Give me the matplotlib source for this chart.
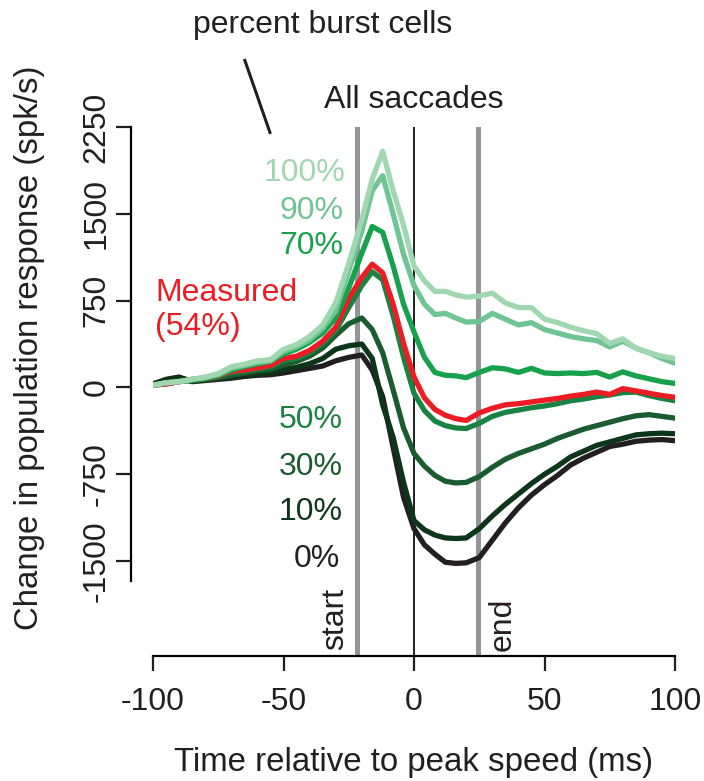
import matplotlib
matplotlib.use("Agg")
import matplotlib.pyplot as plt
import numpy as np

plt.rcParams['font.family'] = ['Liberation Sans', 'DejaVu Sans']
plt.rcParams['axes.unicode_minus'] = False

# time relative to peak speed (ms)
t = [-100, -95, -90, -85, -80, -75, -70, -65, -60, -55, -50, -45, -40, -35, -30, -25, -20,
     -16, -12, -8, -4, 0, 4, 8, 12, 16, 20,
     25, 30, 35, 40, 45, 50, 55, 60, 65, 70, 75, 80, 85, 90, 95, 100]

# population response for each percentage of burst cells (spk/s)
p100 = [20, 40, 50, 70, 90, 120, 180, 200, 230, 240, 330, 370, 440, 540, 730, 1070, 1450,
        1800, 2040, 1700, 1400, 1050, 920, 830, 830, 800, 780,
        790, 815, 730, 690, 690, 590, 560, 520, 490, 465, 380, 420, 340, 300, 270, 250]
p90 = [20, 40, 50, 70, 85, 110, 165, 190, 215, 230, 310, 350, 410, 510, 660, 1010, 1350,
       1700, 1830, 1500, 1150, 880, 720, 630, 640, 600, 565,
       570, 640, 590, 540, 560, 500, 470, 440, 420, 405, 350, 400, 340, 300, 250, 210]
p70 = [20, 40, 50, 65, 80, 105, 150, 180, 205, 225, 290, 330, 390, 470, 600, 860, 1160,
       1390, 1340, 1050, 720, 480, 260, 130, 105, 100, 85,
       130, 170, 160, 130, 165, 125, 120, 125, 120, 130, 90, 135, 100, 75, 50, 35]
measured = [20, 30, 50, 70, 80, 100, 140, 150, 170, 190, 250, 270, 320, 400, 520, 770, 950,
            1065, 990, 720, 380, 90, -90, -190, -240, -270, -285,
            -220, -180, -150, -140, -125, -110, -95, -75, -60, -40, -60, -10, -30, -50, -70, -85]
p50 = [20, 30, 50, 65, 75, 95, 130, 140, 160, 180, 230, 250, 300, 380, 490, 690, 880,
       1000, 930, 620, 260, -50, -200, -290, -330, -350, -355,
       -310, -250, -215, -195, -175, -160, -140, -115, -100, -80, -65, -45, -40, -70, -95, -115]
p30 = [20, 40, 60, 55, 70, 85, 105, 125, 145, 155, 195, 225, 270, 340, 450, 550, 600,
       500, 300, -20, -350, -570, -680, -760, -810, -825, -820,
       -770, -690, -620, -570, -530, -490, -440, -400, -360, -330, -300, -270, -245, -235, -250, -265]
p10 = [30, 60, 80, 60, 70, 80, 90, 105, 115, 125, 155, 175, 205, 250, 330, 360, 375,
       250, -150, -430, -820, -1150, -1230, -1275, -1300, -1305, -1300,
       -1220, -1110, -1010, -920, -830, -750, -680, -600, -550, -500, -470, -440, -410, -400, -395, -400]
p0 = [30, 70, 90, 50, 60, 70, 80, 95, 105, 110, 125, 145, 165, 185, 230, 260, 280,
      150, -80, -517, -950, -1220, -1360, -1440, -1510, -1520, -1515,
      -1470, -1320, -1170, -1040, -930, -840, -760, -670, -610, -560, -510, -490, -465, -455, -450, -460]

saccade_start = -22
saccade_end = 24.5

c100 = '#a0d7b1'
c90 = '#6fc494'
c70 = '#17a14c'
c50 = '#1a8242'
c30 = '#1a5c30'
c10 = '#0d3519'
c0 = '#231f20'
cred = '#ed1c24'

fig = plt.figure(figsize=(7.04, 7.81), dpi=100)
ax = fig.add_axes([153 / 704, 1 - 656 / 781, 522 / 704, 529 / 781])

ymin, ymax = -2320, 2250
top = (2250 - ymin) / (ymax - ymin)
ax.axvline(saccade_start, ymax=top, color='#939598', lw=3.6, zorder=1)
ax.axvline(saccade_end, ymax=top, color='#939598', lw=3.6, zorder=1)
ax.axvline(0, ymax=top, color='#231f20', lw=1.4, zorder=1)

series = [(p0, c0), (p10, c10), (p30, c30), (p50, c50), (measured, cred),
          (p70, c70), (p90, c90), (p100, c100)]
for vals, col in series:
    ax.plot(t, vals, color=col, lw=3.8, solid_joinstyle='round', solid_capstyle='round', zorder=3)

ax.set_xlim(-100, 100)
ax.set_ylim(ymin, ymax)

for s in ['top', 'right']:
    ax.spines[s].set_visible(False)
ax.spines['left'].set_position(('outward', 16))
ax.spines['left'].set_bounds(-1670, 2250)
ax.spines['left'].set_linewidth(1.6)
ax.spines['bottom'].set_linewidth(1.6)

ax.set_xticks([-100, -50, 0, 50, 100])
ax.set_yticks([-1500, -750, 0, 750, 1500, 2250])
ax.tick_params(axis='both', length=11, width=1.6, labelsize=23, colors='#231f20')
ax.tick_params(axis='x', pad=11)
ax.tick_params(axis='y', pad=3)
for lab in ax.get_yticklabels():
    lab.set_rotation(90)
    lab.set_va('center')

ax.set_xlabel('Time relative to peak speed (ms)', fontsize=23.8, color='#231f20')
ax.xaxis.set_label_coords(0.5, -0.172)
ax.set_ylabel('Change in population response (spk/s)', fontsize=23.8, color='#231f20')
ax.yaxis.set_label_coords(-0.207, 0.582)

fs = 23
ax.text(-26.4, 1849, '100%', color=c100, fontsize=fs, ha='right', va='center')
ax.text(-27.2, 1521, '90%', color=c90, fontsize=fs, ha='right', va='center')
ax.text(-27.2, 1218, '70%', color=c70, fontsize=fs, ha='right', va='center')
ax.text(-99.2, 812, 'Measured', color=cred, fontsize=fs, ha='left', va='center')
ax.text(-99.2, 518, '(54%)', color=cred, fontsize=fs, ha='left', va='center')
ax.text(-27.2, -285, '50%', color=c50, fontsize=fs, ha='right', va='center')
ax.text(-27.2, -683, '30%', color=c30, fontsize=fs, ha='right', va='center')
ax.text(-27.2, -1080, '10%', color=c10, fontsize=fs, ha='right', va='center')
ax.text(-28.4, -1486, '0%', color=c0, fontsize=fs, ha='right', va='center')

ax.text(-30.3, -2004, 'start', color=c0, fontsize=fs, rotation=90, ha='center', va='center')
ax.text(34.1, -2048, 'end', color=c0, fontsize=fs, rotation=90, ha='center', va='center')

ax.text(0, 2480, 'All saccades', color=c0, fontsize=fs, ha='center', va='center', clip_on=False)
ax.text(-35.2, 3128, 'percent burst cells', color=c0, fontsize=fs, ha='center', va='center',
        clip_on=False)
ax.plot([-64.8, -55.2], [2825, 2203], color=c0, lw=2.2, clip_on=False)

fig.savefig('out.png', dpi=100)
